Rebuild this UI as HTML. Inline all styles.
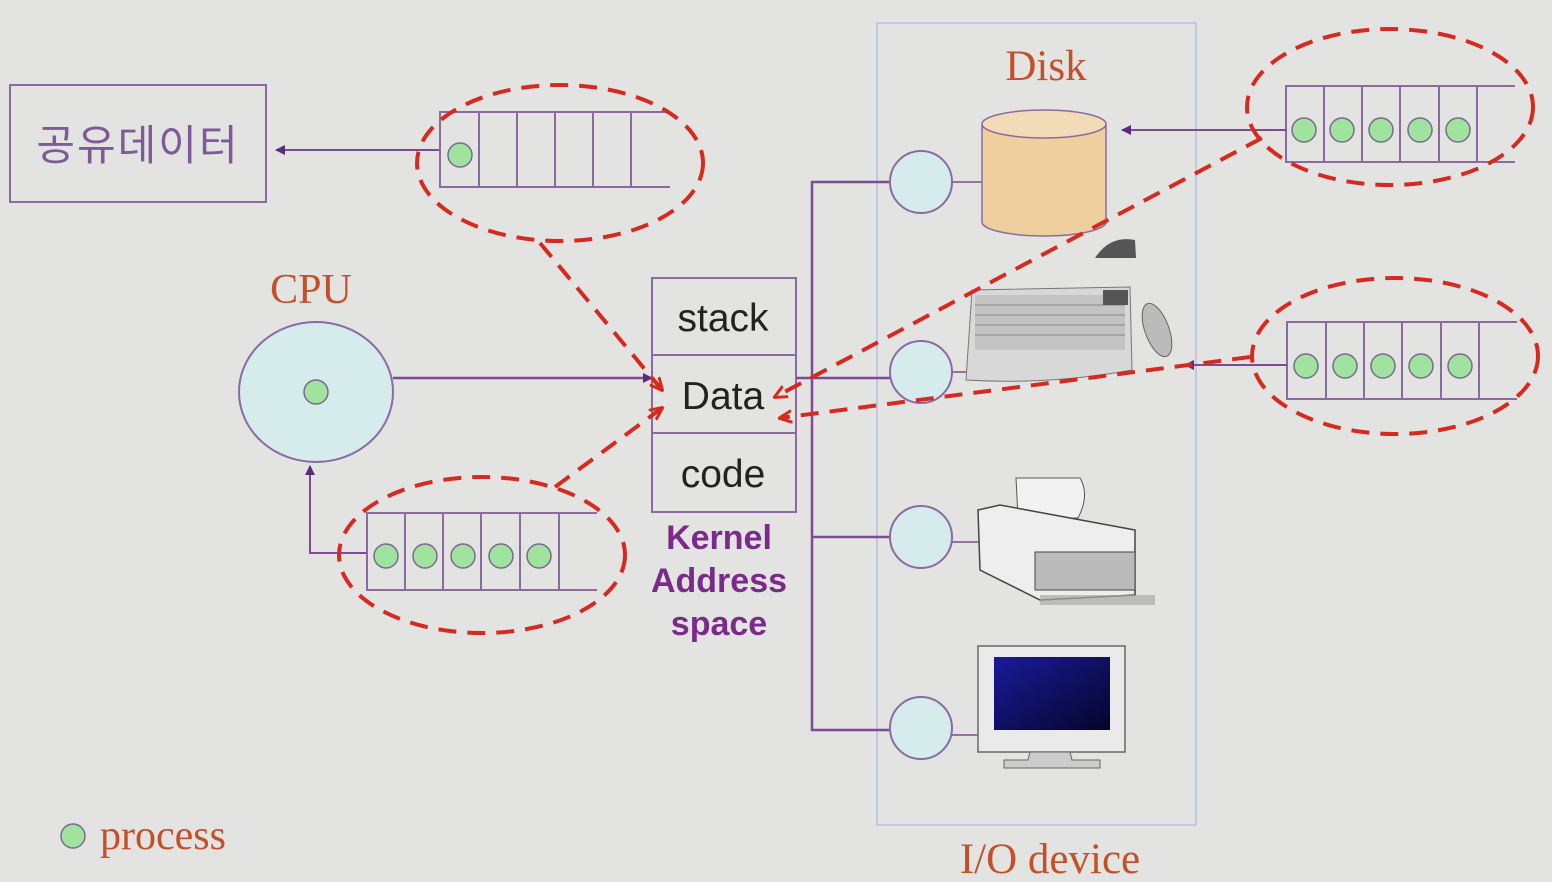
<!DOCTYPE html>
<html><head><meta charset="utf-8"><style>
html,body{margin:0;padding:0;background:#e3e3e1;}
svg{display:block;}
</style></head><body>
<svg width="1552" height="882" viewBox="0 0 1552 882" xmlns="http://www.w3.org/2000/svg">
<defs>
<marker id="pa" markerWidth="10" markerHeight="10" refX="9" refY="5" orient="auto" markerUnits="userSpaceOnUse"><path d="M0,0 L10,5 L0,10 z" fill="#5a2a80"/></marker>
<marker id="ra" markerWidth="14" markerHeight="14" refX="12" refY="7" orient="auto" markerUnits="userSpaceOnUse"><path d="M0,1 L13,7 L0,13" fill="none" stroke="#d62a20" stroke-width="3"/></marker>
<linearGradient id="scr" x1="0" y1="0" x2="1" y2="1"><stop offset="0" stop-color="#1a1a9a"/><stop offset="1" stop-color="#05052a"/></linearGradient>
</defs>
<rect width="1552" height="882" fill="#e3e3e1"/>

<rect x="877" y="23" width="319" height="802" fill="none" stroke="#b9bedf" stroke-width="1.5"/>
<text x="1046" y="80" font-family="Liberation Serif, serif" font-size="43" fill="#c4502a" text-anchor="middle">Disk</text>
<text x="1050" y="873" font-family="Liberation Serif, serif" font-size="43" fill="#c4502a" text-anchor="middle">I/O device</text>

<rect x="10" y="85" width="256" height="117" fill="none" stroke="#8b6aa3" stroke-width="2"/>
<text x="138" y="160" font-family="Liberation Sans, 'Noto Sans CJK KR', sans-serif" font-size="42" letter-spacing="2" fill="#7e5a98" text-anchor="middle">공유데이터</text>
<line x1="440" y1="150" x2="276" y2="150" stroke="#7d4a95" stroke-width="2" marker-end="url(#pa)"/>

<g stroke="#8b6aa3" stroke-width="2" fill="none">
<path d="M670,112 H440 V187 H670"/>
<line x1="479" y1="112" x2="479" y2="187"/><line x1="517" y1="112" x2="517" y2="187"/><line x1="555" y1="112" x2="555" y2="187"/><line x1="593" y1="112" x2="593" y2="187"/><line x1="631" y1="112" x2="631" y2="187"/>
</g>
<circle cx="460" cy="155" r="12" fill="#9fe39f" stroke="#7a6a90" stroke-width="1.5"/>

<text x="311" y="303" font-family="Liberation Serif, serif" font-size="42" fill="#c4502a" text-anchor="middle">CPU</text>
<ellipse cx="316" cy="392" rx="77" ry="70" fill="#d6ecec" stroke="#8b6aa3" stroke-width="2"/>
<circle cx="316" cy="392" r="12" fill="#9fe39f" stroke="#7a6a90" stroke-width="1.5"/>
<line x1="393" y1="378" x2="652" y2="378" stroke="#7d4a95" stroke-width="2.5" marker-end="url(#pa)"/>
<path d="M367,553 H310 V466" fill="none" stroke="#7d4a95" stroke-width="2" marker-end="url(#pa)"/>

<g stroke="#8b6aa3" stroke-width="2" fill="none">
<path d="M597,513 H367 V590 H597"/>
<line x1="405" y1="513" x2="405" y2="590"/><line x1="443" y1="513" x2="443" y2="590"/><line x1="481" y1="513" x2="481" y2="590"/><line x1="520" y1="513" x2="520" y2="590"/><line x1="559" y1="513" x2="559" y2="590"/>
</g>
<g fill="#9fe39f" stroke="#7a6a90" stroke-width="1.5">
<circle cx="386" cy="556" r="12"/><circle cx="425" cy="556" r="12"/><circle cx="463" cy="556" r="12"/><circle cx="501" cy="556" r="12"/><circle cx="539" cy="556" r="12"/>
</g>

<rect x="652" y="278" width="144" height="234" fill="#e3e3e1" stroke="#8b6aa3" stroke-width="2"/>
<line x1="652" y1="355" x2="796" y2="355" stroke="#8b6aa3" stroke-width="2"/>
<line x1="652" y1="433" x2="796" y2="433" stroke="#8b6aa3" stroke-width="2"/>
<g font-family="Liberation Sans, sans-serif" font-size="39" fill="#222" text-anchor="middle">
<text x="723" y="331">stack</text><text x="723" y="409">Data</text><text x="723" y="487">code</text>
</g>
<g font-family="Liberation Sans, sans-serif" font-size="34" font-weight="bold" fill="#7a2a8a" text-anchor="middle">
<text x="719" y="549">Kernel</text><text x="719" y="592">Address</text><text x="719" y="635">space</text>
</g>

<g stroke="#7d4a95" stroke-width="2.5" fill="none">
<path d="M890,182 H812 V730 H890"/>
<line x1="796" y1="378" x2="890" y2="378"/>
<line x1="812" y1="537" x2="890" y2="537"/>
<line x1="952" y1="182" x2="982" y2="182" stroke-width="1.5"/>
<line x1="952" y1="372" x2="966" y2="372" stroke-width="1.5"/>
<line x1="952" y1="542" x2="980" y2="542" stroke-width="1.5"/>
<line x1="952" y1="735" x2="978" y2="735" stroke-width="1.5"/>
</g>
<g fill="#d6ecec" stroke="#8b6aa3" stroke-width="2">
<circle cx="921" cy="182" r="31"/><circle cx="921" cy="372" r="31"/><circle cx="921" cy="537" r="31"/><circle cx="921" cy="728" r="31"/>
</g>

<path d="M982,124 V222 A62,14 0 0 0 1106,222 V124" fill="#efcf9d" stroke="#8b6aa3" stroke-width="1.5"/>
<ellipse cx="1044" cy="124" rx="62" ry="14" fill="#f2dcb8" stroke="#8b6aa3" stroke-width="1.5"/>

<path d="M972,290 L1130,287 L1132,370 Q1050,385 966,380 Z" fill="#d8d8d8" stroke="#777"/>
<rect x="975" y="295" width="150" height="55" fill="#bbb" opacity=".7"/>
<g stroke="#888" stroke-width="1"><line x1="975" y1="305" x2="1125" y2="305"/><line x1="975" y1="315" x2="1125" y2="315"/><line x1="975" y1="325" x2="1125" y2="325"/><line x1="975" y1="335" x2="1125" y2="335"/></g>
<rect x="1103" y="290" width="25" height="15" fill="#555"/>
<path d="M1095,258 Q1110,235 1135,240 L1136,258 Z" fill="#555"/>
<ellipse cx="1157" cy="330" rx="12" ry="28" fill="#bbb" stroke="#666" transform="rotate(-20 1157 330)"/>

<path d="M1016,478 H1080 Q1090,495 1078,518 H1018 Z" fill="#f2f2f2" stroke="#555"/>
<path d="M978,510 L1000,505 L1135,530 L1135,595 L1040,600 L980,570 Z" fill="#eee" stroke="#444" stroke-width="1.5"/>
<rect x="1035" y="552" width="100" height="38" fill="#bbb" stroke="#444"/>
<rect x="1040" y="595" width="115" height="10" fill="#aaa" opacity=".7"/>

<rect x="978" y="646" width="147" height="106" fill="#eaeaea" stroke="#666" stroke-width="1.5"/>
<rect x="994" y="657" width="116" height="73" fill="url(#scr)"/>
<path d="M1030,752 H1070 L1072,760 H1100 V768 H1004 V760 H1028 Z" fill="#ccc" stroke="#666"/>

<g stroke="#8b6aa3" stroke-width="2" fill="none">
<path d="M1515,86 H1286 V162 H1515"/>
<line x1="1324" y1="86" x2="1324" y2="162"/><line x1="1362" y1="86" x2="1362" y2="162"/><line x1="1400" y1="86" x2="1400" y2="162"/><line x1="1439" y1="86" x2="1439" y2="162"/><line x1="1477" y1="86" x2="1477" y2="162"/>
</g>
<g fill="#9fe39f" stroke="#7a6a90" stroke-width="1.5">
<circle cx="1304" cy="130" r="12"/><circle cx="1342" cy="130" r="12"/><circle cx="1381" cy="130" r="12"/><circle cx="1420" cy="130" r="12"/><circle cx="1458" cy="130" r="12"/>
</g>
<line x1="1286" y1="130" x2="1122" y2="130" stroke="#7d4a95" stroke-width="2" marker-end="url(#pa)"/>

<g stroke="#8b6aa3" stroke-width="2" fill="none">
<path d="M1517,322 H1287 V399 H1517"/>
<line x1="1326" y1="322" x2="1326" y2="399"/><line x1="1364" y1="322" x2="1364" y2="399"/><line x1="1402" y1="322" x2="1402" y2="399"/><line x1="1441" y1="322" x2="1441" y2="399"/><line x1="1479" y1="322" x2="1479" y2="399"/>
</g>
<g fill="#9fe39f" stroke="#7a6a90" stroke-width="1.5">
<circle cx="1306" cy="366" r="12"/><circle cx="1345" cy="366" r="12"/><circle cx="1383" cy="366" r="12"/><circle cx="1421" cy="366" r="12"/><circle cx="1460" cy="366" r="12"/>
</g>
<line x1="1287" y1="365" x2="1185" y2="365" stroke="#7d4a95" stroke-width="2" marker-end="url(#pa)"/>

<g fill="none" stroke="#d62a20" stroke-width="4" stroke-dasharray="18,11">
<ellipse cx="560" cy="163" rx="143" ry="78"/>
<ellipse cx="482" cy="555" rx="143" ry="78"/>
<ellipse cx="1390" cy="107" rx="143" ry="78"/>
<ellipse cx="1395" cy="356" rx="143" ry="78"/>
<line x1="540" y1="243" x2="662" y2="390" marker-end="url(#ra)"/>
<line x1="555" y1="487" x2="662" y2="408" marker-end="url(#ra)"/>
<line x1="1262" y1="138" x2="775" y2="397" marker-end="url(#ra)"/>
<line x1="1250" y1="357" x2="780" y2="418" marker-end="url(#ra)"/>
</g>

<circle cx="73" cy="836" r="12" fill="#9fe39f" stroke="#7a6a90" stroke-width="1.5"/>
<text x="100" y="849" font-family="Liberation Serif, serif" font-size="42" fill="#c4502a">process</text>
</svg>
</body></html>
